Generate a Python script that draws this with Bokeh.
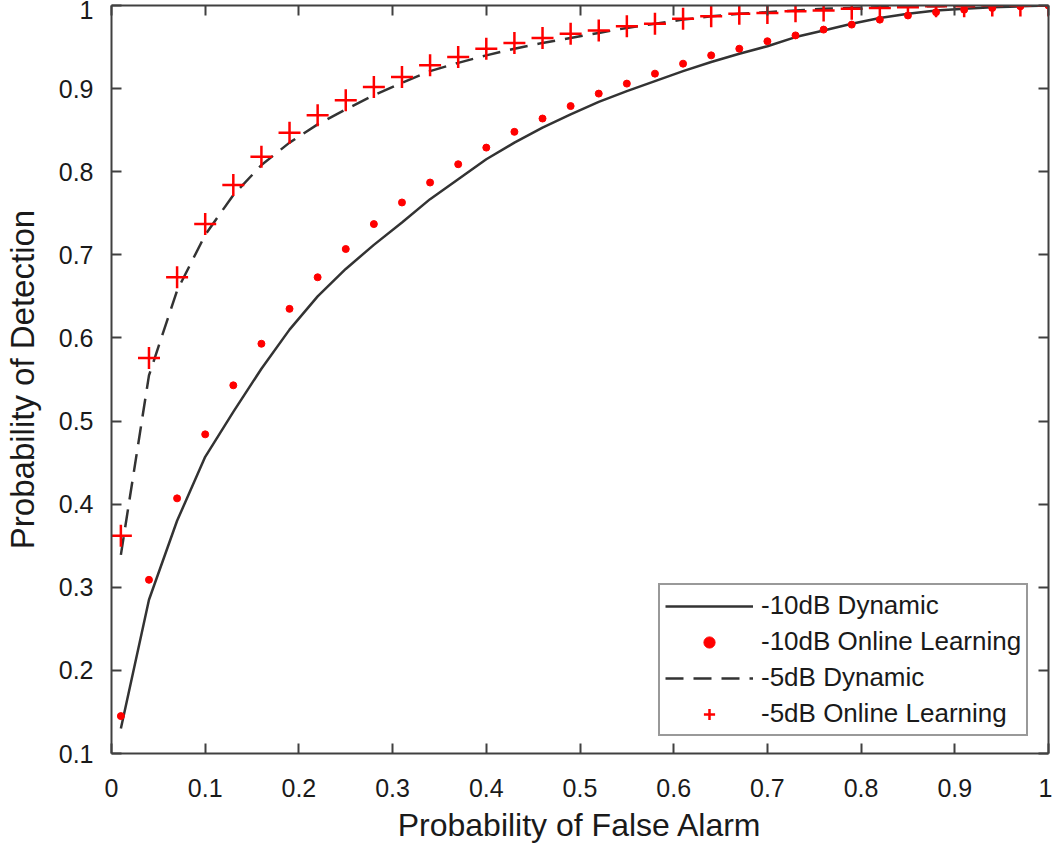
from bokeh.plotting import figure
from bokeh.models import (LinearAxis, FixedTicker, CustomJSTickFormatter, Range1d,
                          Legend, LegendItem)
from bokeh.embed import file_html
from bokeh.resources import INLINE

# ---------------- data ----------------
pfa = [0.01, 0.04, 0.07, 0.10, 0.13, 0.16, 0.19, 0.22, 0.25, 0.28, 0.31, 0.34,
       0.37, 0.40, 0.43, 0.46, 0.49, 0.52, 0.55, 0.58, 0.61, 0.64, 0.67, 0.70,
       0.73, 0.76, 0.79, 0.82, 0.85, 0.88, 0.91, 0.94, 0.97, 1.00]

pd_10db_dynamic = [0.130, 0.285, 0.380, 0.457, 0.511, 0.563, 0.610, 0.650, 0.683,
                   0.712, 0.739, 0.767, 0.791, 0.815, 0.835, 0.853, 0.869, 0.884,
                   0.897, 0.909, 0.921, 0.932, 0.942, 0.951, 0.962, 0.970, 0.978,
                   0.985, 0.990, 0.994, 0.996, 0.998, 0.999, 1.000]

pd_10db_online = [0.145, 0.309, 0.407, 0.484, 0.543, 0.593, 0.635, 0.673, 0.707,
                  0.737, 0.763, 0.787, 0.809, 0.829, 0.848, 0.864, 0.879, 0.894,
                  0.906, 0.918, 0.930, 0.940, 0.948, 0.957, 0.964, 0.971, 0.977,
                  0.983, 0.988, 0.992, 0.995, 0.997, 0.999, 1.000]

pd_5db_dynamic = [0.339, 0.555, 0.657, 0.724, 0.772, 0.808, 0.835, 0.857, 0.875,
                  0.892, 0.907, 0.921, 0.931, 0.940, 0.948, 0.955, 0.961, 0.967,
                  0.973, 0.978, 0.983, 0.987, 0.990, 0.992, 0.994, 0.996, 0.997,
                  0.998, 0.999, 0.999, 1.000, 1.000, 1.000, 1.000]

pd_5db_online = [0.362, 0.576, 0.673, 0.737, 0.784, 0.818, 0.847, 0.868, 0.886,
                 0.902, 0.914, 0.928, 0.938, 0.948, 0.955, 0.961, 0.966, 0.970,
                 0.975, 0.978, 0.984, 0.987, 0.990, 0.991, 0.993, 0.994, 0.996,
                 0.997, 0.998, 0.999, 0.999, 1.000, 1.000, 1.000]

x_ticks = [0, 0.1, 0.2, 0.3, 0.4, 0.5, 0.6, 0.7, 0.8, 0.9, 1]
y_ticks = [0.1, 0.2, 0.3, 0.4, 0.5, 0.6, 0.7, 0.8, 0.9, 1]
x_title = "Probability of False Alarm"
y_title = "Probability of Detection"
labels = ["-10dB Dynamic", "-10dB Online Learning", "-5dB Dynamic", "-5dB Online Learning"]

FONT = "Liberation Sans"
AX = "#404040"
TXT = "#1a1a1a"

p = figure(width=1052, height=845, output_backend="svg", toolbar_location=None,
           x_range=Range1d(0, 1), y_range=Range1d(0.1, 1),
           x_axis_location=None, y_axis_location=None,
           min_border_left=102, min_border_right=4, min_border_top=5,
           min_border_bottom=0, outline_line_color=None,
           background_fill_color="white", border_fill_color="white")
p.xgrid.visible = False
p.ygrid.visible = False

fmt = CustomJSTickFormatter(code="return (Math.round(tick*10)/10).toString();")
blank = CustomJSTickFormatter(code="return '';")


def style_axis(ax, ticks, show_labels):
    ax.ticker = FixedTicker(ticks=ticks)
    ax.axis_line_color = AX
    ax.axis_line_width = 2
    ax.major_tick_line_color = AX
    ax.major_tick_line_width = 2
    ax.major_tick_in = 10
    ax.major_tick_out = 0
    ax.minor_tick_line_color = None
    if show_labels:
        ax.formatter = fmt
        ax.major_label_text_font = FONT
        ax.major_label_text_font_size = "25px"
        ax.major_label_text_color = TXT
        ax.axis_label_text_font = FONT
        ax.axis_label_text_font_style = "normal"
        ax.axis_label_text_color = TXT
    else:
        ax.formatter = blank
        ax.major_label_text_font_size = "1px"
        ax.major_label_standoff = 0
        ax.axis_label_standoff = 0


xb = LinearAxis(axis_label=x_title)
style_axis(xb, x_ticks, True)
xb.axis_label_text_font_size = "32px"
xb.major_label_standoff = 25
xb.axis_label_standoff = 7
p.add_layout(xb, "below")

yl = LinearAxis(axis_label=y_title)
style_axis(yl, y_ticks, True)
yl.axis_label_text_font_size = "33px"
yl.major_label_standoff = 18
yl.axis_label_standoff = 15
p.add_layout(yl, "left")

xt = LinearAxis()
style_axis(xt, x_ticks, False)
p.add_layout(xt, "above")

yr = LinearAxis()
style_axis(yr, y_ticks, False)
p.add_layout(yr, "right")

r1 = p.line(pfa, pd_10db_dynamic, line_color="#333333", line_width=2.5)
r3 = p.line(pfa, pd_5db_dynamic, line_color="#333333", line_width=2.5, line_dash="18 10")
r2 = p.scatter(pfa, pd_10db_online, marker="circle", size=7, fill_color="#ff0000",
               line_color="#ff0000")
r4 = p.scatter(pfa, pd_5db_online, marker="cross", size=22, line_color="#ff0000",
               line_width=2.5)

legend = Legend(items=[LegendItem(label=labels[0], renderers=[r1]),
                       LegendItem(label=labels[1], renderers=[r2]),
                       LegendItem(label=labels[2], renderers=[r3]),
                       LegendItem(label=labels[3], renderers=[r4])],
                location=(547, 17))
legend.label_text_font = FONT
legend.label_text_font_size = "26px"
legend.label_text_color = TXT
legend.glyph_width = 88
legend.glyph_height = 28
legend.label_standoff = 8
legend.padding = 5
legend.spacing = 5
legend.margin = 0
legend.border_line_color = "#333333"
legend.border_line_width = 2
legend.background_fill_color = "white"
legend.background_fill_alpha = 1
p.add_layout(legend, "center")

open("out.html", "w").write(file_html(p, INLINE))
